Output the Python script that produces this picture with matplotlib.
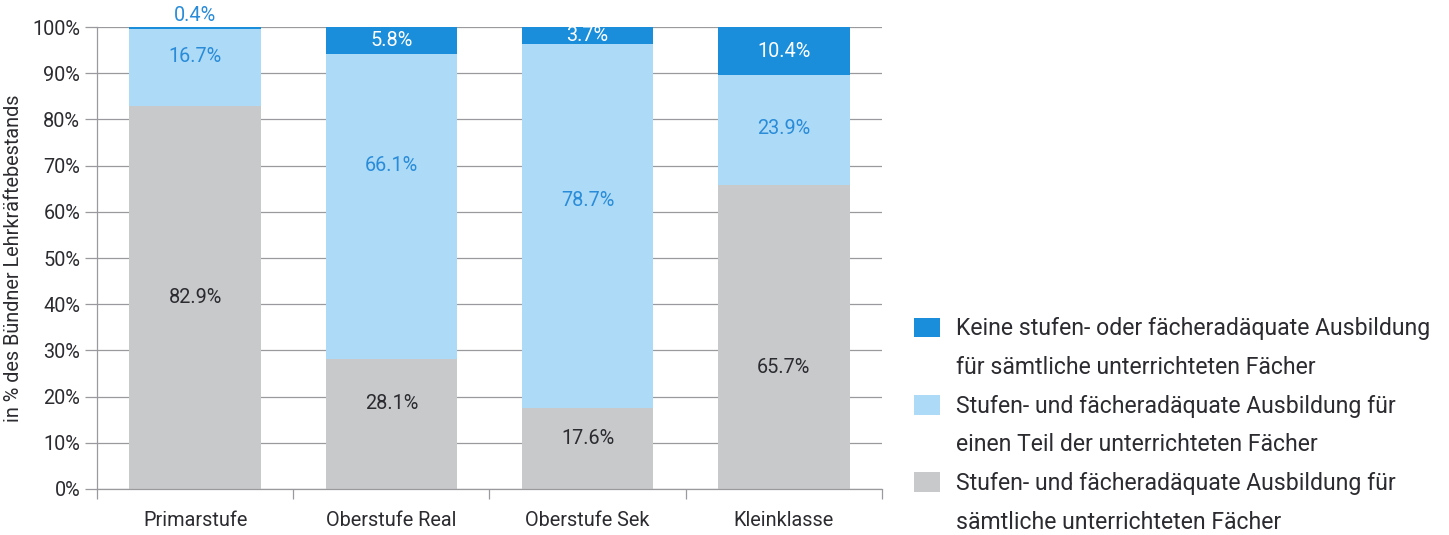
import matplotlib
matplotlib.use("Agg")
import matplotlib.pyplot as plt
from matplotlib.patches import Patch
import numpy as np

plt.rcParams['font.family'] = ['Roboto', 'DejaVu Sans']

categories = ['Primarstufe', 'Oberstufe Real', 'Oberstufe Sek', 'Kleinklasse']
full_match = [82.9, 28.1, 17.6, 65.7]      # grau
partial_match = [16.7, 66.1, 78.7, 23.9]   # hellblau
no_match = [0.4, 5.8, 3.7, 10.4]           # dunkelblau

legend_labels = [
    ['Keine stufen- oder fächeradäquate Ausbildung', 'für sämtliche unterrichteten Fächer'],
    ['Stufen- und fächeradäquate Ausbildung für', 'einen Teil der unterrichteten Fächer'],
    ['Stufen- und fächeradäquate Ausbildung für', 'sämtliche unterrichteten Fächer'],
]

# label heights (in % of axis) as placed in the original
gray_label_y = [41.5, 18.4, 11.0, 26.4]
light_label_y = [93.7, 70.1, 62.5, 78.1]

c_dark = '#1b8edb'
c_light = '#acdaf7'
c_gray = '#c8c9cb'
c_text = '#2b2b30'
c_bluetext = '#2a8cd8'
c_grid = '#9a9a9e'
fs = 14.3

fig = plt.figure(figsize=(14.49, 5.35), dpi=100)
ax = fig.add_axes([0.0669, 0.086, 0.5418, 0.8635])

x = np.arange(len(categories))
w = 0.67
full = np.array(full_match)
part = np.array(partial_match)
none_ = np.array(no_match)

ax.bar(x, full, w, color=c_gray, zorder=2)
ax.bar(x, part, w, bottom=full, color=c_light, zorder=2)
ax.bar(x, none_, w, bottom=full + part, color=c_dark, zorder=2)

for i in range(len(categories)):
    ax.text(x[i], gray_label_y[i], f'{full_match[i]}%', ha='center', va='center',
            fontsize=fs, color=c_text, zorder=3)
    ax.text(x[i], light_label_y[i], f'{partial_match[i]}%', ha='center', va='center',
            fontsize=fs, color=c_bluetext, zorder=3)
    top = full[i] + part[i]
    if none_[i] < 2:
        ax.text(x[i], 102.4, f'{no_match[i]}%', ha='center', va='center',
                fontsize=fs, color=c_bluetext, zorder=3, clip_on=False)
    else:
        ax.text(x[i], top + none_[i] / 2, f'{no_match[i]}%', ha='center', va='center',
                fontsize=fs, color='white', zorder=3)

ax.set_xlim(-0.5, len(categories) - 0.5)
ax.set_ylim(0, 100)
ax.set_yticks(np.arange(0, 101, 10))
ax.set_yticklabels([f'{v}%' for v in range(0, 101, 10)])
ax.yaxis.grid(True, color=c_grid, linewidth=0.9, zorder=0)
ax.set_axisbelow(True)

ax.set_xticks(x)
ax.set_xticklabels(categories)
ax.set_xticks(np.arange(-0.5, len(categories)), minor=True)
ax.tick_params(axis='x', which='major', length=0, pad=16, labelsize=fs, colors=c_text)
ax.tick_params(axis='x', which='minor', length=7, color=c_grid, width=0.9)
ax.tick_params(axis='y', length=9, color=c_grid, width=0.9, labelsize=fs,
               labelcolor=c_text, pad=3)

for s in ['top', 'right']:
    ax.spines[s].set_visible(False)
for s in ['left', 'bottom']:
    ax.spines[s].set_color(c_grid)
    ax.spines[s].set_linewidth(0.9)

ax.set_ylabel('in % des Bündner Lehrkräftebestands', fontsize=fs, color=c_text, labelpad=7)

# legend: one row per text line, square only on first line of each entry
handles = []
labels = []
for col, lab in zip([c_dark, c_light, c_gray], legend_labels):
    handles.append(Patch(facecolor=col, edgecolor='none'))
    labels.append(lab[0])
    handles.append(Patch(facecolor='none', edgecolor='none'))
    labels.append(lab[1])

leg = fig.legend(handles, labels, loc='upper left', bbox_to_anchor=(0.6246, 0.424),
                 frameon=False, fontsize=16.6, handlelength=1.1, handleheight=0.95,
                 handletextpad=0.72, labelspacing=0.68, borderaxespad=0)
for t in leg.get_texts():
    t.set_color(c_text)

fig.savefig('out.png', dpi=100)
